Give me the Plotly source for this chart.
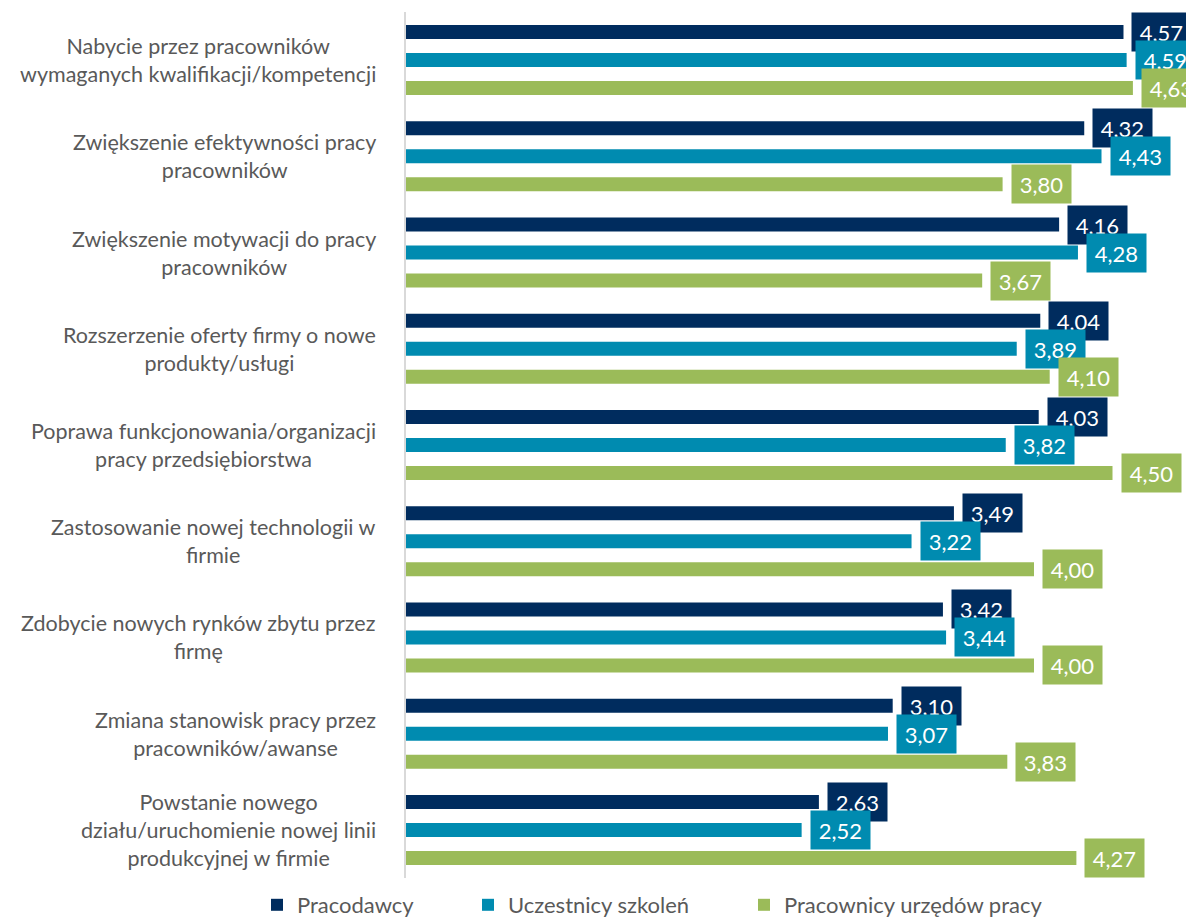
import plotly.graph_objects as go

# Categories (top to bottom) and mean ratings per respondent group
categories = [
    "Nabycie przez pracowników<br>wymaganych kwalifikacji/kompetencji",
    "Zwiększenie efektywności pracy<br>pracowników",
    "Zwiększenie motywacji do pracy<br>pracowników",
    "Rozszerzenie oferty firmy o nowe<br>produkty/usługi",
    "Poprawa funkcjonowania/organizacji<br>pracy przedsiębiorstwa",
    "Zastosowanie nowej technologii w<br>firmie",
    "Zdobycie nowych rynków zbytu przez<br>firmę",
    "Zmiana stanowisk pracy przez<br>pracowników/awanse",
    "Powstanie nowego<br>działu/uruchomienie nowej linii<br>produkcyjnej w firmie",
]

series_names = ["Pracodawcy", "Uczestnicy szkoleń", "Pracownicy urzędów pracy"]
pracodawcy = [4.57, 4.32, 4.16, 4.04, 4.03, 3.49, 3.42, 3.10, 2.63]
uczestnicy = [4.59, 4.43, 4.28, 3.89, 3.82, 3.22, 3.44, 3.07, 2.52]
pracownicy_up = [4.63, 3.80, 3.67, 4.10, 4.50, 4.00, 4.00, 3.83, 4.27]
series_values = [pracodawcy, uczestnicy, pracownicy_up]
series_colors = ["#002C5E", "#008BB0", "#9BBB59"]

FONT = "Lato"
TEXT_GREY = "#595959"

W, H = 1186, 918
M_L, M_R, M_T, M_B = 406, 0, 12, 40
BARGAP = 0.127
BARGROUPGAP = 0.5
PX_PER_UNIT = 157

plot_w = W - M_L - M_R
plot_h = H - M_T - M_B

# One legend box per series so each entry sits at its own horizontal spot
legend_ids = ["legend", "legend2", "legend3"]
legend_left_px = [257, 468, 744]
legend_mid_px = 905

fig = go.Figure()
for name, vals, col, lid in zip(series_names, series_values, series_colors, legend_ids):
    fig.add_trace(go.Bar(
        y=categories, x=vals, name=name, orientation="h",
        marker=dict(color=col, line=dict(width=0)),
        hoverinfo="x+name", legend=lid, showlegend=True,
    ))

# Pixel height of one bar slot inside a category group
slot_px = plot_h / len(categories) * (1 - BARGAP) / len(series_names)

annotations = []
# Value labels in coloured boxes next to each bar end
for i, (vals, col) in enumerate(zip(series_values, series_colors)):
    shift = (1 - i) * slot_px
    for cat, v in zip(categories, vals):
        annotations.append(dict(
            x=v, y=cat, xref="x", yref="y",
            text=f"{v:.2f}".replace(".", ","),
            showarrow=False, xanchor="left", yanchor="middle",
            xshift=8, yshift=shift,
            width=57, height=36, borderpad=1, bgcolor=col,
            font=dict(family=FONT, size=22, color="white"),
        ))

# Category labels, centred line by line, to the left of the axis
for cat in categories:
    annotations.append(dict(
        x=0, y=cat, xref="paper", yref="y", text=cat,
        showarrow=False, xanchor="right", yanchor="middle",
        xshift=-28, align="center",
        font=dict(family=FONT, size=21.5, color=TEXT_GREY),
    ))

legend_style = dict(
    orientation="h", xanchor="left", yanchor="middle",
    xref="container", yref="container",
    y=1 - legend_mid_px / H,
    font=dict(family=FONT, size=22, color=TEXT_GREY),
    itemwidth=30, bgcolor="rgba(0,0,0,0)",
)
legends = {}
for lid, px in zip(legend_ids, legend_left_px):
    legends[lid] = dict(legend_style, x=px / W)

fig.update_layout(
    width=W, height=H,
    margin=dict(l=M_L, r=M_R, t=M_T, b=M_B, autoexpand=False),
    paper_bgcolor="white", plot_bgcolor="white",
    barmode="group", bargap=BARGAP, bargroupgap=BARGROUPGAP,
    font=dict(family=FONT, color=TEXT_GREY),
    xaxis=dict(range=[0, plot_w / PX_PER_UNIT], showgrid=False, zeroline=False,
               showticklabels=False, showline=False, fixedrange=True),
    yaxis=dict(autorange="reversed", showgrid=False, zeroline=False,
               showticklabels=False, ticks="",
               showline=True, linecolor="#D9D9D9", linewidth=2),
    annotations=annotations,
    **legends,
)

fig.write_html("out.html")
